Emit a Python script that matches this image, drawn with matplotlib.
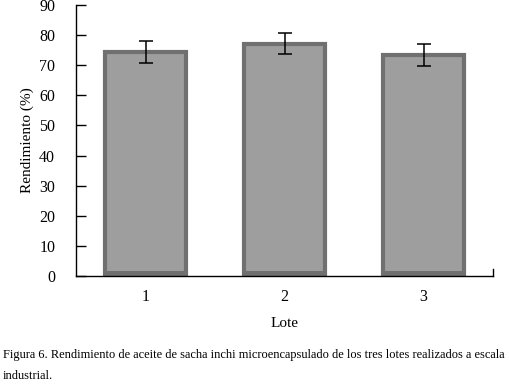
import numpy as np
import matplotlib.pyplot as plt

plt.rcParams['font.family'] = ['Liberation Serif', 'DejaVu Serif']

# datos
lotes = ['1', '2', '3']
rendimiento = [74.5, 77.2, 73.4]
error = [3.6, 3.6, 3.7]

fig = plt.figure(figsize=(5.1, 3.84), dpi=100)
ax = fig.add_axes([0.149, 0.281, 0.818, 0.706])

x = np.arange(1, len(lotes) + 1)
ax.bar(x, rendimiento, width=0.585, color='#9e9e9e', edgecolor='#707070', linewidth=3)
# franja oscura en la base de cada barra
ax.bar(x, [1.7] * len(lotes), width=0.57, color='#707070', linewidth=0)
ax.errorbar(x, rendimiento, yerr=error, fmt='none', ecolor='black', elinewidth=1.1,
            capsize=5, capthick=1.1)

ax.set_xlim(0.5, 3.5)
ax.set_ylim(0, 90)
ax.set_yticks(np.arange(0, 91, 10))
ax.set_xticks(x)
ax.set_xticklabels(lotes)
ax.tick_params(axis='y', direction='in', length=7, width=1, labelsize=11.5, pad=15)
ax.tick_params(axis='x', length=0, labelsize=11.5, pad=9)
ax.spines['top'].set_visible(False)
ax.spines['right'].set_visible(False)
ax.spines['left'].set_linewidth(1)
ax.spines['bottom'].set_linewidth(1)
ax.plot([3.5, 3.5], [0, 2.5], color='black', lw=1, clip_on=False)

ax.set_ylabel('Rendimiento (%)', fontsize=11, labelpad=4)
ax.set_xlabel('Lote', fontsize=11, labelpad=9)

fig.text(0.006, 1 - 355 / 384, 'Figura 6. Rendimiento de aceite de sacha inchi microencapsulado de los tres lotes realizados a escala',
         fontsize=8.9, ha='left', va='center')
fig.text(0.006, 1 - 376 / 384, 'industrial.', fontsize=8.9, ha='left', va='center')

fig.savefig('out.png', dpi=100)
